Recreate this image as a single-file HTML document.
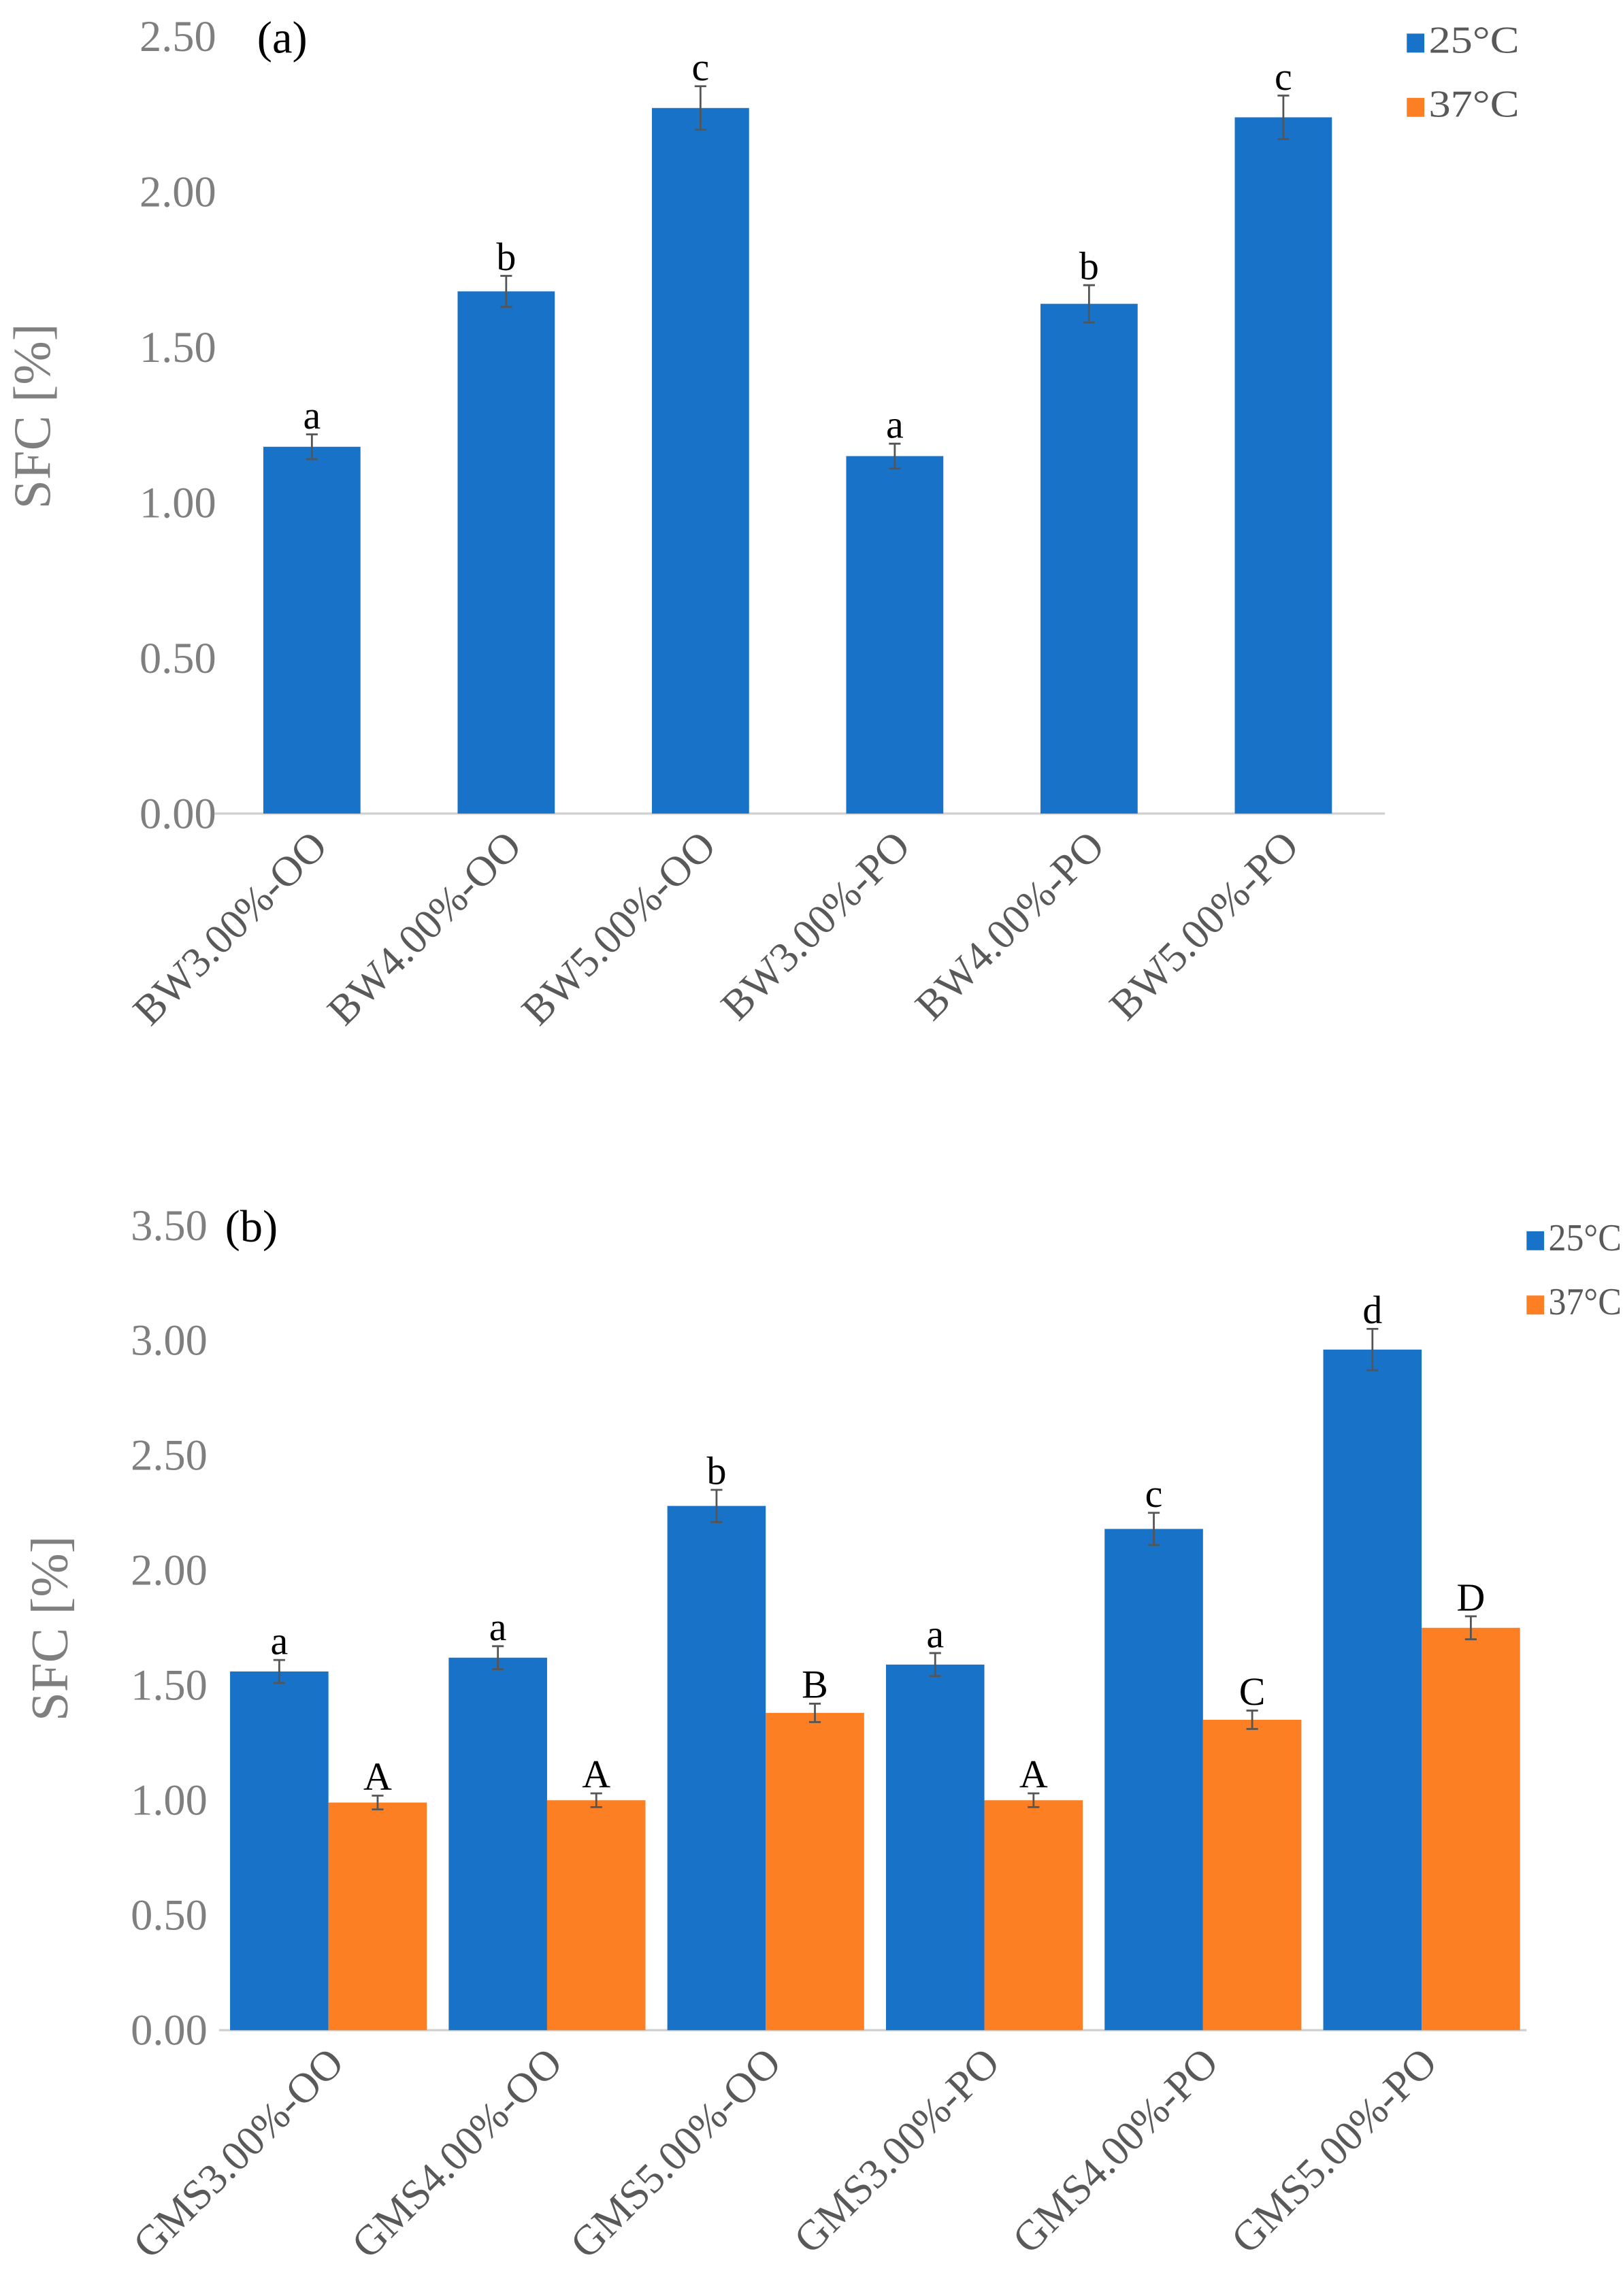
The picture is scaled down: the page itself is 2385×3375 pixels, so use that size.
<!DOCTYPE html>
<html><head><meta charset="utf-8"><style>
html,body{margin:0;padding:0;background:#fff;}
svg{display:block;}
text{font-family:"Liberation Serif",serif;}
</style></head><body>
<svg id="chart" width="2385" height="3375" viewBox="0 0 1111 1572" preserveAspectRatio="none" xmlns="http://www.w3.org/2000/svg">
<g id="pa"></g>
<g id="pb"></g>
</svg>
<script>
const catsA = ["BW3.00%-OO","BW4.00%-OO","BW5.00%-OO","BW3.00%-PO","BW4.00%-PO","BW5.00%-PO"];
const valsA25 = [1.18,1.68,2.27,1.15,1.64,2.24];
const errA25 = [0.04,0.05,0.07,0.04,0.06,0.07];
const letA25 = ["a","b","c","a","b","c"];
const ticksA = [0,0.5,1,1.5,2,2.5];

const catsB = ["GMS3.00%-OO","GMS4.00%-OO","GMS5.00%-OO","GMS3.00%-PO","GMS4.00%-PO","GMS5.00%-PO"];
const valsB25 = [1.56,1.62,2.28,1.59,2.18,2.96];
const errB25 = [0.05,0.05,0.07,0.05,0.07,0.09];
const letB25 = ["a","a","b","a","c","d"];
const valsB37 = [0.99,1.00,1.38,1.00,1.35,1.75];
const errB37 = [0.03,0.03,0.04,0.03,0.04,0.05];
const letB37 = ["A","A","B","A","C","D"];
const ticksB = [0,0.5,1,1.5,2,2.5,3,3.5];

const NS="http://www.w3.org/2000/svg";
function mk(parent,tag,attrs,txt){const e=document.createElementNS(NS,tag);for(const k in attrs)e.setAttribute(k,attrs[k]);if(txt!==undefined)e.textContent=txt;parent.appendChild(e);return e;}

function drawPanel(g,o){
  const y=v=>o.y0-(v-0)*(o.y0-o.yTop)/o.yMax;
  const ax=mk(g,'line',{x1:o.xStart,x2:o.xEnd,y1:o.y0,y2:o.y0,stroke:'#d0d0d0','stroke-width':1.5});
  
  
  o.ticks.forEach(t=>{
    const tx=mk(g,'text',{x:o.tickX,y:y(t)+10,'text-anchor':'end','font-size':30,fill:'#7f7f7f'},t.toFixed(2));
    
    
  });
  const yt=mk(g,'text',{x:0,y:0,'text-anchor':'middle','font-size':36,fill:'#7f7f7f',transform:`translate(${o.ytX},${o.ytY}) rotate(-90)`},'SFC [%]');
  
  
  const pl=mk(g,'text',{x:o.plX,y:o.plY,'font-size':31,fill:'#000'},o.panel);
  
  
  const n=o.cats.length, cw=(o.xEnd2-o.xStart)/n;
  o.series.forEach((s,si)=>{
    s.vals.forEach((v,i)=>{
      const bx=o.xStart+cw*i+o.barOff(si,cw), bw=o.bw*cw;
      const r=mk(g,'rect',{x:bx,y:y(v),width:bw,height:o.y0-y(v),fill:s.color});
      
      
      const cx=bx+bw/2, e=s.err[i];
      const eb=mk(g,'path',{d:`M${cx},${y(v+e)}V${y(v-e)}M${cx-4},${y(v+e)}H${cx+4}M${cx-4},${y(v-e)}H${cx+4}`,stroke:'#555',fill:'none','stroke-width':1.3});
      
      
      const lt=mk(g,'text',{x:cx,y:y(v+e)-4,'text-anchor':'middle','font-size':27,fill:'#000'},s.lets[i]);
      
      
    });
  });
  o.cats.forEach((c,i)=>{
    const cx=o.xStart+cw*(i+0.5)+o.lblDx;
    const t=mk(g,'text',{x:0,y:0,'text-anchor':'end','font-size':29,fill:'#595959',transform:`translate(${cx},${o.y0+24}) rotate(-45)`},c);
    
    
  });
  o.legend.forEach((l,i)=>{
    const ly=o.legY+i*44;
    const sq=mk(g,'rect',{x:o.legX,y:ly-13,width:12,height:13,fill:l.color});
    
    
    const lt=mk(g,'text',{x:o.legX+15,y:ly,'font-size':26,fill:'#595959',textLength:o.legW,lengthAdjust:'spacingAndGlyphs'},l.label);
    
    
  });
}
drawPanel(document.getElementById('pa'),{
  y0:557,yTop:25,yMax:2.5,ticks:ticksA,tickX:148,xStart:147,xEnd:948,xEnd2:945,
  cats:catsA,bw:0.5,barOff:(si,cw)=>cw*0.25,lblDx:12,
  series:[{name:'25c',vals:valsA25,err:errA25,lets:letA25,color:'#1772c8'}],
  ytX:34,ytY:285,plX:176,plY:36,panel:'(a)',
  legX:963,legY:36,legW:62,legend:[{label:'25°C',color:'#1772c8'},{label:'37°C',color:'#fd7f23'}]
});
drawPanel(document.getElementById('pb'),{
  y0:1390,yTop:839,yMax:3.5,ticks:ticksB,tickX:142,xStart:150,xEnd:1045,xEnd2:1048,
  cats:catsB,bw:0.45,barOff:(si,cw)=>cw*0.05+si*cw*0.45,lblDx:12,
  series:[{name:'25c',vals:valsB25,err:errB25,lets:letB25,color:'#1772c8'},
          {name:'37c',vals:valsB37,err:errB37,lets:letB37,color:'#fd7f23'}],
  ytX:46,ytY:1115,plX:154,plY:850,panel:'(b)',
  legX:1045,legY:856,legW:50,legend:[{label:'25°C',color:'#1772c8'},{label:'37°C',color:'#fd7f23'}]
});
</script>
</body></html>
